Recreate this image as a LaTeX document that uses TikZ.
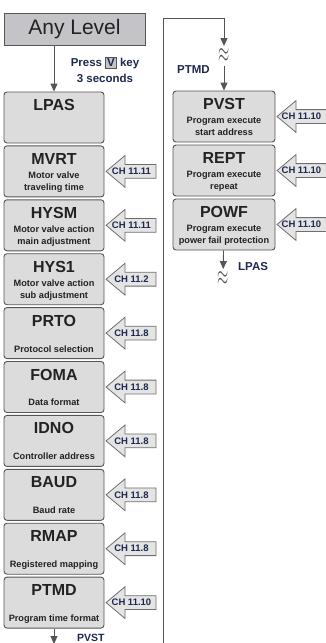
\documentclass[tikz,border=0pt]{standalone}
\usepackage{fontspec}
\setmainfont{Liberation Sans}
\usetikzlibrary{shapes.arrows,arrows.meta,positioning}

\definecolor{boxfill}{HTML}{DCDCDC}
\definecolor{boxline}{HTML}{555555}
\definecolor{topfill}{HTML}{C4C4C8}
\definecolor{tagfill}{HTML}{E4E4E4}
\definecolor{tagline}{HTML}{6E6E6E}
\definecolor{labblue}{HTML}{1E2850}
\definecolor{ink}{HTML}{222222}

\tikzset{
  topbox/.style={draw=boxline, fill=topfill, line width=1pt, minimum width=141pt, minimum height=32pt, inner sep=0pt, font=\fontsize{21}{21}\selectfont, text=ink},
  menubox/.style={draw=boxline, fill=boxfill, line width=0.9pt, rounded corners=3pt, minimum width=100pt, minimum height=51pt, inner sep=0pt},
  boxtitle/.style={font=\fontsize{16}{16}\selectfont\bfseries, text=ink, inner sep=0pt},
  boxsub/.style={font=\fontsize{9.2}{12}\selectfont\bfseries, text=ink, align=center, inner sep=0pt},
  chtag/.style={single arrow, shape border rotate=180, draw=tagline, fill=tagfill, line width=0.8pt, minimum height=50pt, minimum width=30pt, single arrow head extend=9pt, single arrow tip angle=80, inner xsep=0pt, inner ysep=6.5pt, anchor=tip},
  chtext/.style={font=\fontsize{9.5}{10}\selectfont\bfseries, text=labblue, inner sep=0pt},
  flow/.style={draw=boxline, line width=0.9pt, -{Triangle[width=7pt,length=8pt]}},
  lab/.style={font=\fontsize{11.5}{16}\selectfont\bfseries, text=labblue, inner sep=1pt},
  brk/.style={text=boxline, inner sep=0pt, outer sep=3pt},
}

\begin{document}
\begin{tikzpicture}[x=1pt,y=-1pt]
  \useasboundingbox (0,0) rectangle (325,643);
  \node[topbox] (anylvl) at (74.5,29) {Any Level};
  \node[lab,align=center] (press) at (105,70) {Press {\fboxsep=1.5pt\fcolorbox{boxline}{topfill}{V}} key\\3 seconds};
  % left column
  \node[menubox] (lpas) at (54,117.5) {};
  \node[boxtitle] (lpas-t) at ([yshift=-13.5pt]lpas.north) {LPAS};
  \foreach \nm/\ttl/\sa/\sb/\ch [count=\i] in {
      mvrt/MVRT/Motor valve/traveling time/11.11,
      hysm/HYSM/Motor valve action/main adjustment/11.11,
      hys1/HYS1/Motor valve action/sub adjustment/11.2,
      prto/PRTO//Protocol selection/11.8,
      foma/FOMA//Data format/11.8,
      idno/IDNO//Controller address/11.8,
      baud/BAUD//Baud rate/11.8,
      rmap/RMAP//Registered mapping/11.8,
      ptmd/PTMD//Program time format/11.10}{
    \node[menubox] (\nm) at (54,117.5+53.9*\i) {};
    \node[boxtitle] (\nm-t) at ([yshift=-13.5pt]\nm.north) {\ttl};
    \node[boxsub] (\nm-s) at ([yshift=-36.5pt]\nm.north) {\strut\sa\\\strut\sb};
    \node[chtag] (\nm-ch) at ([xshift=1pt]\nm.east) {};
    \node[chtext] (\nm-cht) at ([xshift=26pt]\nm-ch.tip) {CH \ch};
  }
  % right column
  \foreach \nm/\ttl/\sa/\sb [count=\i from 0] in {
      pvst/PVST/Program execute/start address,
      rept/REPT/Program execute/repeat,
      powf/POWF/Program execute/power fail protection}{
    \node[menubox,minimum width=102pt] (\nm) at (224,116.5+54*\i) {};
    \node[boxtitle] (\nm-t) at ([yshift=-13.5pt]\nm.north) {\ttl};
    \node[boxsub] (\nm-s) at ([yshift=-36.5pt]\nm.north) {\strut\sa\\\strut\sb};
    \node[chtag] (\nm-ch) at ([xshift=1pt]\nm.east) {};
    \node[chtext] (\nm-cht) at ([xshift=25pt]\nm-ch.tip) {CH 11.10};
  }
  % links
  \coordinate (sepbot) at (163,650);
  \coordinate (septop) at (224,18);
  \node[brk] (brk1) at (224,56) {\scalebox{1}[2]{\fontsize{15}{15}\selectfont$\approx$}};
  \node[brk] (brk2) at (223,279) {\scalebox{1}[2]{\fontsize{15}{15}\selectfont$\approx$}};
  \coordinate (ptmdout) at (54,644);
  \draw[flow] (anylvl.south -| lpas.north) -- (lpas);
  \draw[flow] (sepbot) |- (septop) -- (brk1);
  \draw[flow] (brk1) -- (pvst);
  \draw[flow] (powf) -- (brk2);
  \draw[flow] (ptmd) -- (ptmdout);
  \node[lab,anchor=north west] (ptmd-l) at (176,64) {PTMD};
  \node[lab,anchor=west] (lpas-l) at (237,267) {LPAS};
  \node[lab,anchor=south west,font=\fontsize{10.5}{12}\selectfont\bfseries] (pvst-l) at (76,643) {PVST};
\end{tikzpicture}
\end{document}
